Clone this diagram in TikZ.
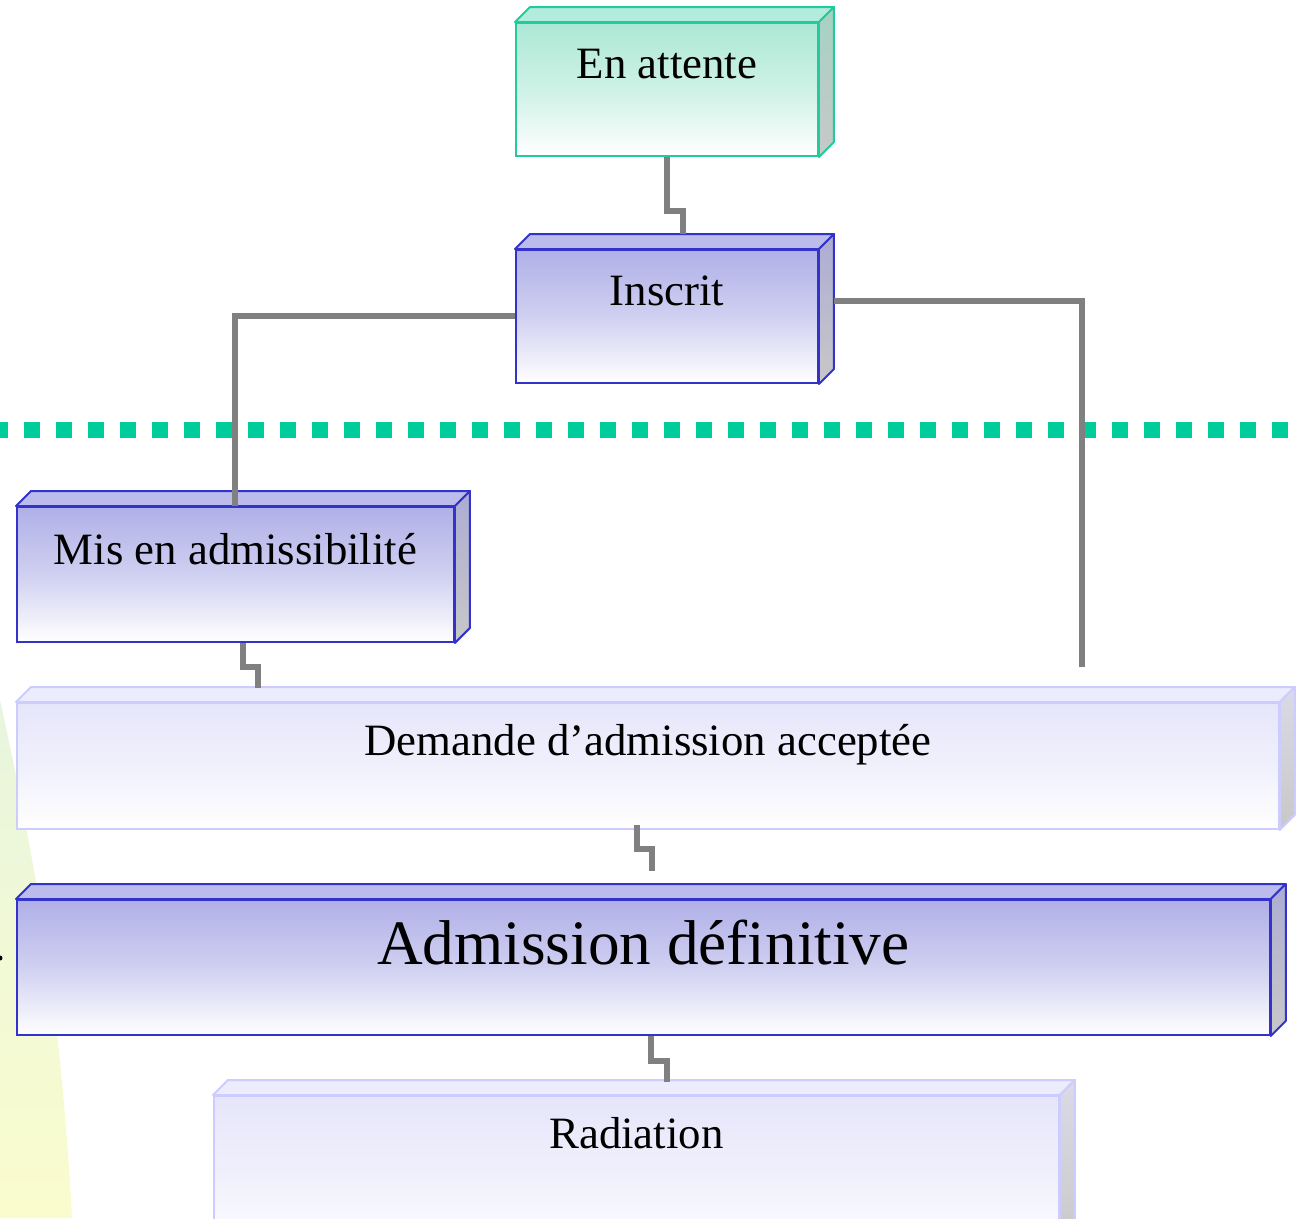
\documentclass[tikz,border=0pt]{standalone}
\usepackage{fontspec}
\setmainfont{Liberation Serif}
\usepackage{tikz}

\definecolor{fondvert}{RGB}{173,232,213}
\definecolor{bordvert}{RGB}{32,204,153}
\definecolor{dessusvert}{RGB}{178,236,221}
\definecolor{cotevert}{RGB}{166,210,195}
\definecolor{fondbleu}{RGB}{176,176,232}
\definecolor{bordbleu}{RGB}{51,51,204}
\definecolor{dessusbleu}{RGB}{188,188,236}
\definecolor{cotebleu}{RGB}{172,172,212}
\definecolor{fondpale}{RGB}{230,230,250}
\definecolor{bordpale}{RGB}{204,204,255}
\definecolor{dessuspale}{RGB}{236,236,252}
\definecolor{cotepale}{RGB}{218,218,232}
\definecolor{gris}{RGB}{200,200,200}
\definecolor{trait}{RGB}{128,128,128}
\definecolor{tirets}{RGB}{0,204,153}
\definecolor{hautfond}{RGB}{232,245,222}
\definecolor{basfond}{RGB}{250,252,205}

\tikzset{
  boite/.style={draw, line width=0.04cm, inner sep=0pt, anchor=north west,
    font=\fontsize{25.5}{30}\selectfont},
  vert/.style={boite, draw=bordvert, top color=fondvert, bottom color=white, middle color=fondvert!60!white},
  bleu/.style={boite, draw=bordbleu, top color=fondbleu, bottom color=white, middle color=fondbleu!60!white},
  pale/.style={boite, draw=bordpale, top color=fondpale, bottom color=white, middle color=fondpale!60!white},
  lien/.style={draw=trait, line width=0.12cm},
}

% top and right faces of a box: node, border, top colour, side colour
\newcommand{\faces}[4]{
  \draw[line width=0.04cm, draw=#2, fill=#3, line join=round]
    (#1.north west) -- ++(15,-15) -- ([shift={(15,-15)}]#1.north east) -- (#1.north east) -- cycle;
  \draw[line width=0.04cm, draw=#2, top color=#4, bottom color=gris, line join=round]
    (#1.north east) -- ++(15,-15) -- ([shift={(15,-15)}]#1.south east) -- (#1.south east) -- cycle;
}

\begin{document}
\begin{tikzpicture}[x=0.02cm, y=-0.02cm]
  \useasboundingbox (0,0) rectangle (1301,1218);
  \clip (0,0) rectangle (1301,1218);

  % background
  \shade[top color=hautfond, bottom color=basfond]
    (0,700) .. controls (35,860) and (60,1000) .. (72,1218) -- (0,1218) -- cycle;
  \fill (0,958) circle (2.5);

  % separation
  \draw[tirets, line width=0.32cm, dash pattern=on 0.32cm off 0.32cm] (-8,430) -- (1301,430);

  % boxes
  \node[vert, minimum width=6.04cm, text height=1.11cm, text depth=1.55cm] (enatt) at (515,22) {En attente};
  \faces{enatt}{bordvert}{dessusvert}{cotevert}
  \node[bleu, minimum width=6.04cm, text height=1.11cm, text depth=1.55cm] (inscrit) at (515,249) {Inscrit};
  \faces{inscrit}{bordbleu}{dessusbleu}{cotebleu}
  \node[bleu, minimum width=8.74cm, text height=1.15cm, text depth=1.55cm] (mis) at (16,506) {Mis en admissibilité};
  \faces{mis}{bordbleu}{dessusbleu}{cotebleu}
  \node[pale, minimum width=25.24cm, text height=1.04cm, text depth=1.48cm] (dem) at (16,702) {Demande d’admission acceptée};
  \faces{dem}{bordpale}{dessuspale}{cotepale}
  \node[bleu, minimum width=25.06cm, text height=1.28cm, text depth=1.42cm,
    font=\fontsize{36}{42}\selectfont] (adm) at (16,899) {Admission définitive};
  \faces{adm}{bordbleu}{dessusbleu}{cotebleu}
  \node[pale, minimum width=16.9cm, text height=1.05cm, text depth=2.15cm] (rad) at (213,1095) {Radiation};
  \faces{rad}{bordpale}{dessuspale}{cotepale}

  % connectors
  \coordinate (fin) at (1082,667);
  \draw[lien] (enatt.south) -- ++(0,54) -| ([shift={(16,-15)}]inscrit.north);
  \draw[lien] (inscrit.west) -| (mis.north);
  \draw[lien] ([shift={(15,-15)}]inscrit.east) -| (fin);
  \draw[lien] ([shift={(8,0)}]mis.south) -- ++(0,24) -| ([shift={(242,-14)}]dem.north west);
  \draw[lien] ([shift={(-11,-5)}]dem.south) -- ++(0,24) -| ([shift={(9,-28)}]adm.north);
  \draw[lien] ([shift={(8,0)}]adm.south) -- ++(0,25) -| ([shift={(31,-13)}]rad.north);
\end{tikzpicture}
\end{document}
